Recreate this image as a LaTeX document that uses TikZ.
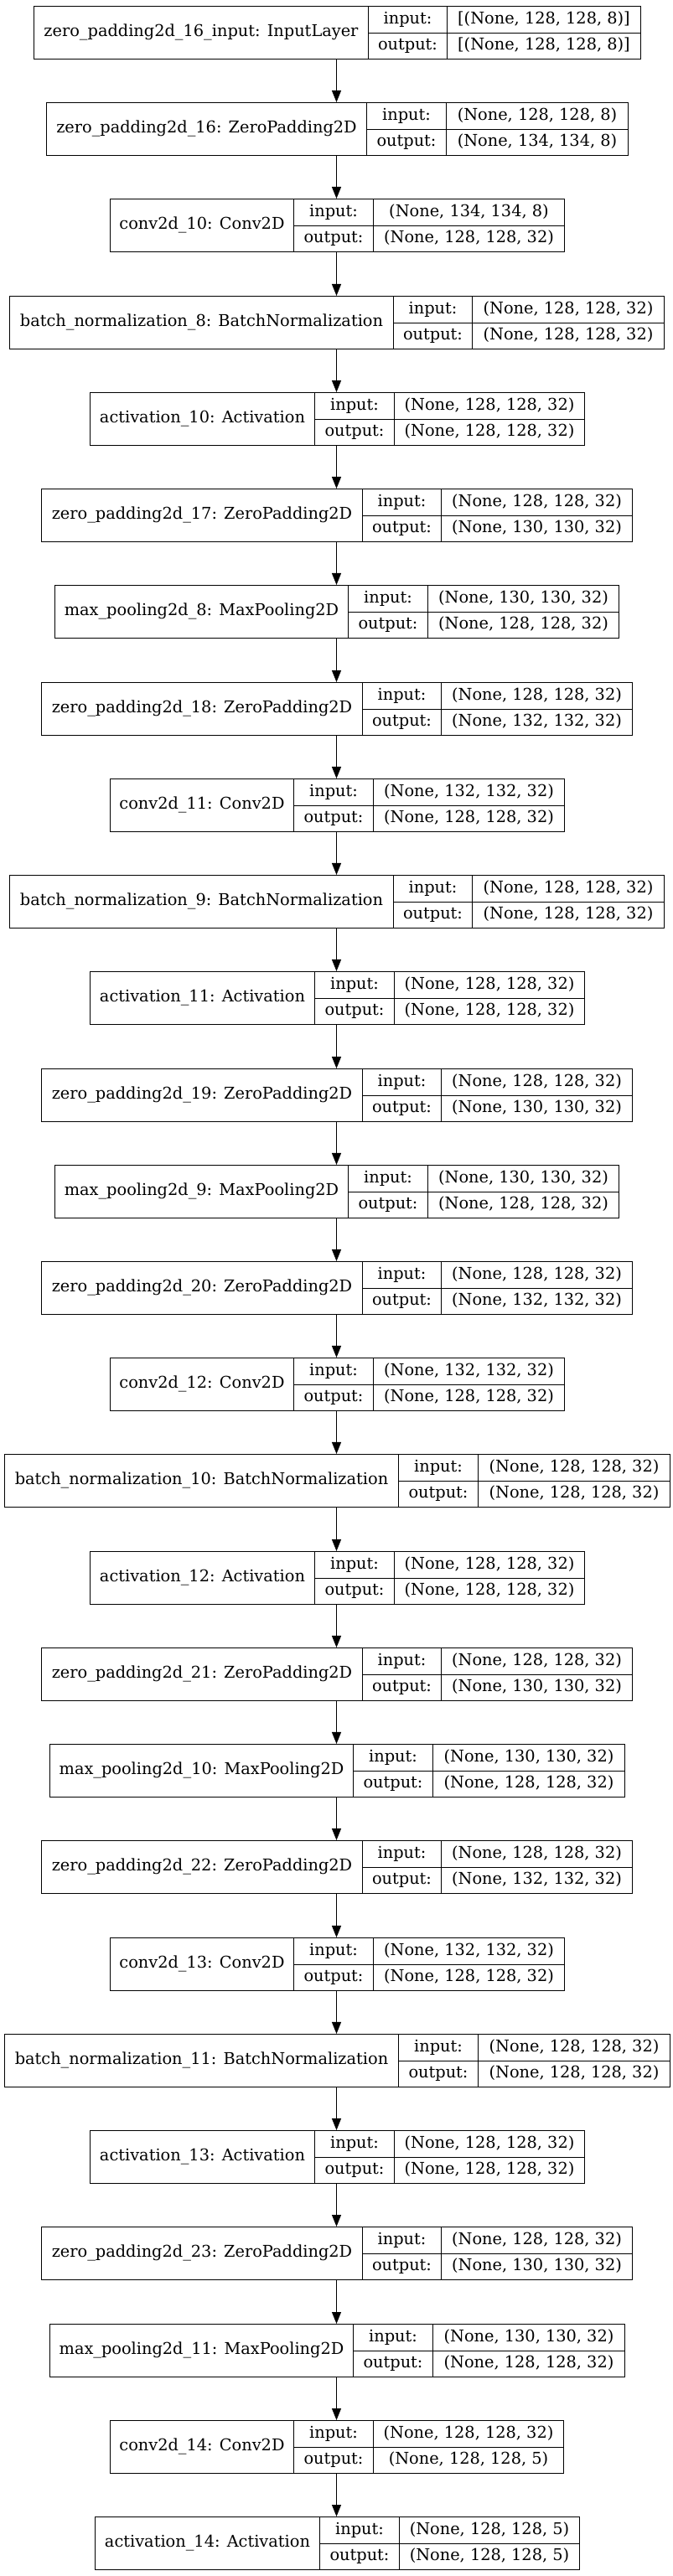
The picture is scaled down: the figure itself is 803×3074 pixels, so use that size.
\documentclass[tikz,border=0pt]{standalone}
\usepackage{fontspec}
\setmainfont{DejaVu Serif}
\usetikzlibrary{arrows.meta}
\tikzset{
  boxnode/.style={draw=black, line width=0.8pt, rectangle, inner sep=0pt},
  cell/.style={draw=black, line width=0.8pt},
  txt/.style={inner sep=0pt, text height=7.2pt, text depth=0pt, font=\fontsize{14.5pt}{16pt}\selectfont},
  arr/.style={draw=black, line width=0.8pt, -{Triangle[length=10.5pt, width=8.25pt]}}
}
\newcommand\lyr[8]{%
  \pgfmathsetmacro\yt{round(7+115.23*#1)+0.5}%
  \pgfmathsetmacro\yb{\yt+63}%
  \pgfmathsetmacro\ym{\yt+32}%
  \pgfmathsetmacro\yc{\yt+31.5}%
  \pgfmathsetmacro\yi{\yt+15.75}%
  \pgfmathsetmacro\yo{\yt+47.25}%
  \pgfmathsetmacro\xl{floor(#2)+0.5}%
  \pgfmathsetmacro\xa{floor(#3)+0.5}%
  \pgfmathsetmacro\xb{floor(#4)+0.5}%
  \pgfmathsetmacro\xr{floor(#5)+0.5}%
  \node[boxnode, minimum width={(\xr-\xl)*0.75pt}, minimum height=47.25pt] (b#1) at ({(\xl+\xr)/2},\yc) {};
  \draw[cell] (\xa,\yt) -- (\xa,\yb) (\xb,\yt) -- (\xb,\yb) (\xa,\ym) -- (\xr,\ym);
  \node[txt] (n#1) at ({(\xl+\xa)/2},\yc) {#6};
  \node[txt] (il#1) at ({(\xa+\xb)/2},\yi) {input:};
  \node[txt] (ol#1) at ({(\xa+\xb)/2},\yo) {output:};
  \node[txt] (iv#1) at ({(\xb+\xr)/2},\yi) {#7};
  \node[txt] (ov#1) at ({(\xb+\xr)/2},\yo) {#8};
}
\begin{document}
\begin{tikzpicture}[x=0.75pt, y=-0.75pt]
\fill[white] (0,0) rectangle (803,3074);
\useasboundingbox (0,0) rectangle (803,3074);
\coordinate (ax) at (401.5,0);
\lyr{0}{40}{439}{533}{764}{zero\_padding2d\_16\_input: InputLayer}{[(None, 128, 128, 8)]}{[(None, 128, 128, 8)]}
\lyr{1}{55}{437}{532}{749}{zero\_padding2d\_16: ZeroPadding2D}{(None, 128, 128, 8)}{(None, 134, 134, 8)}
\lyr{2}{131}{350}{445}{673}{conv2d\_10: Conv2D}{(None, 134, 134, 8)}{(None, 128, 128, 32)}
\lyr{3}{11}{469}{563}{792}{batch\_normalization\_8: BatchNormalization}{(None, 128, 128, 32)}{(None, 128, 128, 32)}
\lyr{4}{107}{375}{470}{697}{activation\_10: Activation}{(None, 128, 128, 32)}{(None, 128, 128, 32)}
\lyr{5}{49}{432}{526}{754}{zero\_padding2d\_17: ZeroPadding2D}{(None, 128, 128, 32)}{(None, 130, 130, 32)}
\lyr{6}{65}{415}{510}{738}{max\_pooling2d\_8: MaxPooling2D}{(None, 130, 130, 32)}{(None, 128, 128, 32)}
\lyr{7}{49}{432}{526}{754}{zero\_padding2d\_18: ZeroPadding2D}{(None, 128, 128, 32)}{(None, 132, 132, 32)}
\lyr{8}{131}{350}{445}{673}{conv2d\_11: Conv2D}{(None, 132, 132, 32)}{(None, 128, 128, 32)}
\lyr{9}{11}{469}{563}{792}{batch\_normalization\_9: BatchNormalization}{(None, 128, 128, 32)}{(None, 128, 128, 32)}
\lyr{10}{107}{375}{470}{697}{activation\_11: Activation}{(None, 128, 128, 32)}{(None, 128, 128, 32)}
\lyr{11}{49}{432}{526}{754}{zero\_padding2d\_19: ZeroPadding2D}{(None, 128, 128, 32)}{(None, 130, 130, 32)}
\lyr{12}{65}{415}{510}{738}{max\_pooling2d\_9: MaxPooling2D}{(None, 130, 130, 32)}{(None, 128, 128, 32)}
\lyr{13}{49}{432}{526}{754}{zero\_padding2d\_20: ZeroPadding2D}{(None, 128, 128, 32)}{(None, 132, 132, 32)}
\lyr{14}{131}{350}{445}{673}{conv2d\_12: Conv2D}{(None, 132, 132, 32)}{(None, 128, 128, 32)}
\lyr{15}{5}{475}{570}{799}{batch\_normalization\_10: BatchNormalization}{(None, 128, 128, 32)}{(None, 128, 128, 32)}
\lyr{16}{107}{375}{470}{697}{activation\_12: Activation}{(None, 128, 128, 32)}{(None, 128, 128, 32)}
\lyr{17}{49}{432}{526}{754}{zero\_padding2d\_21: ZeroPadding2D}{(None, 128, 128, 32)}{(None, 130, 130, 32)}
\lyr{18}{59}{421}{516}{745}{max\_pooling2d\_10: MaxPooling2D}{(None, 130, 130, 32)}{(None, 128, 128, 32)}
\lyr{19}{49}{432}{526}{754}{zero\_padding2d\_22: ZeroPadding2D}{(None, 128, 128, 32)}{(None, 132, 132, 32)}
\lyr{20}{131}{350}{445}{673}{conv2d\_13: Conv2D}{(None, 132, 132, 32)}{(None, 128, 128, 32)}
\lyr{21}{5}{475}{570}{799}{batch\_normalization\_11: BatchNormalization}{(None, 128, 128, 32)}{(None, 128, 128, 32)}
\lyr{22}{107}{375}{470}{697}{activation\_13: Activation}{(None, 128, 128, 32)}{(None, 128, 128, 32)}
\lyr{23}{49}{432}{526}{754}{zero\_padding2d\_23: ZeroPadding2D}{(None, 128, 128, 32)}{(None, 130, 130, 32)}
\lyr{24}{59}{421}{516}{745}{max\_pooling2d\_11: MaxPooling2D}{(None, 130, 130, 32)}{(None, 128, 128, 32)}
\lyr{25}{131}{350}{445}{672}{conv2d\_14: Conv2D}{(None, 128, 128, 32)}{(None, 128, 128, 5)}
\lyr{26}{113}{381}{476}{691}{activation\_14: Activation}{(None, 128, 128, 5)}{(None, 128, 128, 5)}
\foreach \i [evaluate=\i as \j using int(\i+1)] in {0,...,25}
  \draw[arr] (b\i.south -| ax) -- (b\j.north -| ax);
\end{tikzpicture}
\end{document}
